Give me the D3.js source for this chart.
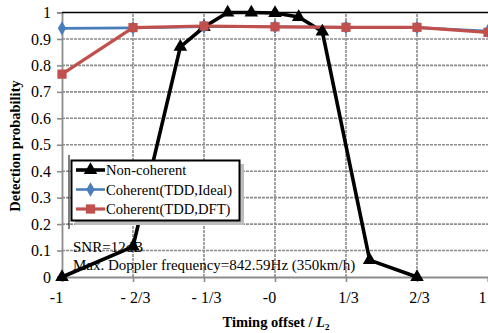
<!DOCTYPE html>
<html>
<head>
<meta charset="utf-8">
<script src="https://cdn.jsdelivr.net/npm/d3@7"></script>
<style>
  html, body { margin: 0; padding: 0; background: #fff; }
  svg { display: block; }
</style>
</head>
<body>
<svg id="chart" width="488" height="333"></svg>
<script>
// Timing offset values (units of L2) and tick labels
const xTickValues = [-1, -2/3, -1/3, 0, 1/3, 2/3, 1];
const xTickLabels = ["-1", "- 2/3", "- 1/3", "-0", "1/3", "2/3", "1"];
const yTickValues = [0, 0.1, 0.2, 0.3, 0.4, 0.5, 0.6, 0.7, 0.8, 0.9, 1];

// Non-coherent detection
const nonCoherentX = [-1, -2/3, -4/9, -1/3, -2/9, -1/9, 0, 1/9, 2/9, 4/9, 2/3];
const nonCoherentY = [0, 0.115, 0.87, 0.945, 1.0, 1.0, 0.998, 0.983, 0.928, 0.064, 0];

// Coherent detection (ideal and DFT-based estimation)
const coherentX = [-1, -2/3, -1/3, 0, 1/3, 2/3, 1];
const idealY = [0.940, 0.942, 0.946, 0.946, 0.944, 0.943, 0.930];
const dftY = [0.767, 0.943, 0.949, 0.946, 0.944, 0.944, 0.925];

const seriesNames = ["Non-coherent", "Coherent(TDD,Ideal)", "Coherent(TDD,DFT)"];
const seriesColors = ["#000000", "#4a7ebb", "#c0504d"];

const FONT = "'Liberation Serif', 'Times New Roman', 'DejaVu Serif', serif";

const svg = d3.select("#chart").attr("font-family", FONT);
const x = d3.scaleLinear().domain([-1, 1]).range([62, 488]);
const y = d3.scaleLinear().domain([0, 1]).range([277, 12.5]);

// grid
const grid = svg.append("g");
grid.selectAll("line.h").data(yTickValues.slice(1, -1)).enter().append("line")
  .attr("x1", x(-1)).attr("x2", x(1))
  .attr("y1", d => y(d)).attr("y2", d => y(d))
  .attr("stroke", "#8c8c8c").attr("stroke-width", 1.6).attr("stroke-dasharray", "3,1");
grid.selectAll("line.v").data(xTickValues.slice(1, -1)).enter().append("line")
  .attr("y1", y(0)).attr("y2", y(1))
  .attr("x1", d => x(d)).attr("x2", d => x(d))
  .attr("stroke", "#8c8c8c").attr("stroke-width", 1.6).attr("stroke-dasharray", "3,1");

// axes
const yAxis = d3.axisLeft(y).tickValues(yTickValues)
  .tickFormat(d => d === 0 || d === 1 ? String(d) : d3.format(".1f")(d))
  .tickSize(5).tickPadding(6);
const gy = svg.append("g").attr("transform", `translate(${x(-1)},0)`).call(yAxis)
  .attr("font-family", FONT).attr("font-size", 16);
gy.select(".domain").attr("stroke", "#8c8c8c").attr("stroke-width", 1.8);
gy.selectAll(".tick line").attr("stroke", "#8c8c8c").attr("stroke-width", 1.6);
gy.selectAll(".tick text").attr("fill", "#000");

const xAxis = d3.axisBottom(x).tickValues(xTickValues)
  .tickFormat((d, i) => xTickLabels[i]).tickSize(5).tickPadding(10);
const gx = svg.append("g").attr("transform", `translate(0,${y(0)})`).call(xAxis)
  .attr("font-family", FONT).attr("font-size", 16);
gx.select(".domain").attr("stroke", "#8c8c8c").attr("stroke-width", 1.8);
gx.selectAll(".tick line").attr("stroke", "#8c8c8c").attr("stroke-width", 1.6);
// whole-number labels keep room for a fraction part, so they sit left of the tick
gx.selectAll(".tick text").attr("fill", "#000")
  .attr("dx", (d, i) => xTickLabels[i].includes("/") ? 2 : -6)
  .attr("text-anchor", (d, i) => i === xTickLabels.length - 1 ? "end" : "middle");
gx.selectAll(".tick text").filter((d, i) => i === xTickLabels.length - 1).attr("dx", -2);

// top border of plot area
svg.append("line").attr("x1", x(-1)).attr("x2", x(1)).attr("y1", y(1)).attr("y2", y(1))
  .attr("stroke", "#000").attr("stroke-width", 1.6);

// annotation text
const note = svg.append("g").attr("font-size", 15);
note.append("text").attr("x", 73).attr("y", 252).text("SNR=12dB");
note.append("text").attr("x", 73).attr("y", 270).text("Max. Doppler frequency=842.59Hz (350km/h)");

// series lines
const series = [
  { xs: nonCoherentX, ys: nonCoherentY, color: seriesColors[0], width: 3.6, shape: d3.symbolTriangle, size: 80 },
  { xs: coherentX, ys: idealY, color: seriesColors[1], width: 2.6, shape: d3.symbolDiamond, size: 60 },
  { xs: coherentX, ys: dftY, color: seriesColors[2], width: 3.2, shape: d3.symbolSquare, size: 85 }
];
const line = d3.line().x(d => x(d[0])).y(d => y(d[1]));
series.forEach(s => {
  svg.append("path").datum(d3.zip(s.xs, s.ys))
    .attr("d", line).attr("fill", "none")
    .attr("stroke", s.color).attr("stroke-width", s.width).attr("stroke-linejoin", "round");
});
series.forEach(s => {
  svg.append("g").selectAll("path").data(d3.zip(s.xs, s.ys)).enter().append("path")
    .attr("d", d3.symbol().type(s.shape).size(s.size))
    .attr("transform", d => `translate(${x(d[0])},${y(d[1])})`)
    .attr("fill", s.color);
});

// legend
svg.append("line").attr("x1", 69).attr("x2", 69).attr("y1", 155).attr("y2", 229)
  .attr("stroke", "#000").attr("stroke-width", 1);
const lg = svg.append("g");
lg.append("rect").attr("x", 75).attr("y", 164).attr("width", 169).attr("height", 61)
  .attr("fill", "#bdbdbd");
lg.append("rect").attr("x", 71.5).attr("y", 160.5).attr("width", 168).attr("height", 60)
  .attr("fill", "#fff").attr("stroke", "#000").attr("stroke-width", 2);
series.forEach((s, i) => {
  const cy = 170 + i * 19.5;
  lg.append("line").attr("x1", 76).attr("x2", 105).attr("y1", cy).attr("y2", cy)
    .attr("stroke", s.color).attr("stroke-width", s.width);
  lg.append("path").attr("d", d3.symbol().type(s.shape).size(s.size))
    .attr("transform", `translate(90.5,${cy})`).attr("fill", s.color);
  lg.append("text").attr("x", 106).attr("y", cy + 5).attr("font-size", 14.6).text(seriesNames[i]);
});

// axis titles
svg.append("text").attr("transform", "translate(20,146) rotate(-90)")
  .attr("text-anchor", "middle").attr("font-size", 14.5).attr("font-weight", "bold")
  .text("Detection probability");
const xt = svg.append("text").attr("x", 276).attr("y", 327).attr("text-anchor", "middle")
  .attr("font-size", 14.5).attr("font-weight", "bold");
xt.append("tspan").text("Timing offset / ");
xt.append("tspan").attr("font-style", "italic").text("L");
xt.append("tspan").attr("dy", 3).attr("font-size", 9).text("2");
</script>
</body>
</html>
